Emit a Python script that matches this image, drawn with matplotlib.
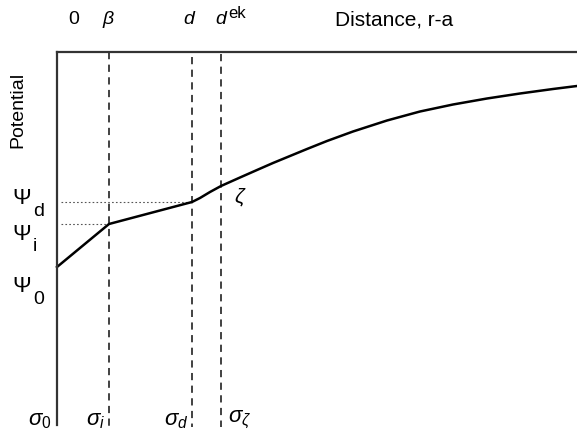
import matplotlib
matplotlib.use('Agg')
import matplotlib.pyplot as plt

plt.rcParams['font.family'] = ['Liberation Sans', 'DejaVu Sans']
plt.rcParams['mathtext.fontset'] = 'custom'
plt.rcParams['mathtext.rm'] = 'Liberation Sans'
plt.rcParams['mathtext.it'] = 'Liberation Sans:italic'

# potential profile (distance, potential), arbitrary units
dist = [0, 52, 135, 143, 153, 164, 183, 200, 216, 233, 250, 270, 296,
        313, 330, 363, 396, 430, 463, 496, 520]
pot = [158, 201, 223, 227, 233, 239, 247.5, 255, 262, 269, 276, 284, 293.5,
       299, 304.5, 313.5, 320.5, 326.5, 331.5, 336, 339]

# planes: beta (inner), d (diffuse), shear plane (zeta)
x_beta = 52
x_d = 135
x_ek = 164
psi_i = 201
psi_d = 223

top_labels = ['0', r'$\beta$', r'$d$']
bottom_labels = [r'$\sigma_0$', r'$\sigma_i$', r'$\sigma_d$', r'$\sigma_\zeta$']

fig = plt.figure(figsize=(5.77, 4.36), dpi=100)
ax = fig.add_axes([57 / 577, 11 / 436, 520 / 577, 373 / 436])
ax.set_xlim(0, 520)
ax.set_ylim(0, 373)
ax.set_xticks([])
ax.set_yticks([])
for s in ['right', 'bottom']:
    ax.spines[s].set_visible(False)
for s in ['left', 'top']:
    ax.spines[s].set_color('#333333')
    ax.spines[s].set_linewidth(1.6)

dash = dict(color='#333333', lw=1.3, ls=(0, (4, 3)), clip_on=False)
ax.plot([x_beta, x_beta], [373, -2], **dash)
ax.plot([x_d, x_d], [368, -2], **dash)
ax.plot([x_ek, x_ek], [371, -2], **dash)

ax.plot([4, x_d], [psi_d, psi_d], color='#555555', lw=0.8, ls=(0, (1.5, 2)))
ax.plot([4, x_beta], [psi_i, psi_i], color='#555555', lw=0.8, ls=(0, (1.5, 2)))

ax.plot(dist, pot, color='black', lw=1.8, clip_on=False, solid_joinstyle='round')

kw = dict(ha='center', va='center', fontsize=14, clip_on=False)
# top axis labels
ax.text(74 - 57, 425 - 20, top_labels[0], **kw)
ax.text(109 - 57, 425 - 20, top_labels[1], ha='center', va='center', fontsize=14)
ax.text(190 - 57, 425 - 20, top_labels[2], ha='center', va='center', fontsize=14)
ax.text(228 - 57, 425 - 20, r'$d$', ha='right', va='center', fontsize=14)
ax.text(228 - 57, 425 - 14, 'ek', ha='left', va='center', fontsize=12)
ax.text(394 - 57, 425 - 20, 'Distance, r-a', ha='center', va='center', fontsize=15)

ax.text(18 - 57, 425 - 110, 'Potential', rotation=90, **kw)

# potential labels on the left
for label, sub, yp in [('\u03a8', 'd', 199), ('\u03a8', 'i', 234), ('\u03a8', '0', 287)]:
    ax.text(22 - 57, 425 - yp, label, ha='center', va='center', fontsize=16)
    ax.text(33 - 57, 425 - yp - 12, sub, ha='left', va='center', fontsize=14)

ax.text(240 - 57, 425 - 197, r'$\zeta$', ha='center', va='center', fontsize=15)

# charge labels along the bottom
for lab, xp in zip(bottom_labels, [40, 96, 176, 240]):
    ax.text(xp - 57, 425 - 420, lab, ha='center', va='center', fontsize=16)

fig.savefig('out.png', dpi=100)
